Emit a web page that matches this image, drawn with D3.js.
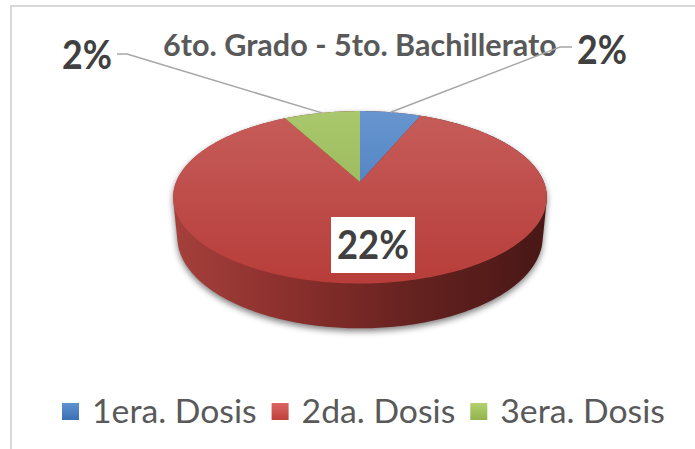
<!DOCTYPE html>
<html>
<head>
<meta charset="utf-8">
<script src="https://cdn.jsdelivr.net/npm/d3@7"></script>
<style>
  html, body { margin: 0; padding: 0; background: #ffffff; }
  svg { display: block; }
</style>
</head>
<body>
<svg id="chart" width="695" height="449"></svg>
<script>
// ---- data ----
const title = "6to. Grado - 5to. Bachillerato";
const categories = ["1era. Dosis", "2da. Dosis", "3era. Dosis"];
const values = [1.6, 22.0, 2.0];           // percent values shown as labels
const labelTexts = values.map(v => d3.format(".0%")(v / 100));

// ---- styles ----
const topColors = [["#6795cf", "#3c72b6"], ["#c65d5a", "#b73d3a"], ["#a9c76c", "#8fae4d"]];
const legendColors = [["#5f91d2", "#3b70b5"], ["#dc6663", "#bf3f3b"], ["#b3d26f", "#91b24f"]];
const color = d3.scaleOrdinal().domain(categories).range(d3.range(categories.length));

const svg = d3.select("#chart");
const W = 695, H = 449;
const defs = svg.append("defs");

// frame
svg.append("rect").attr("x", 11).attr("y", 6).attr("width", W + 20).attr("height", H + 20)
  .attr("fill", "#fff").attr("stroke", "#d9d9d9").attr("stroke-width", 2);

// ---- 3D projection ----
const phi = 27 * Math.PI / 180, Dd = 5.03, F = 925, cx = 360, cy = 182, depth = 0.245;
function proj(theta, r = 1, h = 0) {
  const x = r * Math.sin(theta), z = r * Math.cos(theta);
  const u = z * Math.sin(phi) + h * Math.cos(phi);
  const w = z * Math.cos(phi) - h * Math.sin(phi);
  const s = F / (Dd + w);
  return [cx + s * x, cy - s * u];
}
const N = 360;
const topRim = d3.range(N).map(i => proj(i / N * 2 * Math.PI, 1, 0));
const botRim = d3.range(N).map(i => proj(i / N * 2 * Math.PI, 1, -depth));
const hull = d3.polygonHull(topRim.concat(botRim));
const xs = topRim.map(p => p[0]);
const x0 = d3.min(xs), x1 = d3.max(xs);

// shadow
const sh = defs.append("filter").attr("id", "blur").attr("x", "-20%").attr("y", "-20%").attr("width", "140%").attr("height", "140%");
sh.append("feGaussianBlur").attr("stdDeviation", 3);
svg.append("path").attr("d", "M" + hull.join("L") + "Z")
  .attr("transform", "translate(0,3)")
  .attr("fill", "#000").attr("opacity", 0.5).attr("filter", "url(#blur)");

// side
const sideGrad = defs.append("linearGradient").attr("id", "side").attr("gradientUnits", "userSpaceOnUse")
  .attr("x1", x0).attr("x2", x1).attr("y1", 0).attr("y2", 0);
[[0, "#a5403c"], [0.3, "#8c302d"], [0.65, "#64221f"], [1, "#481716"]].forEach(s =>
  sideGrad.append("stop").attr("offset", s[0]).attr("stop-color", s[1]));
svg.append("path").attr("d", "M" + hull.join("L") + "Z").attr("fill", "url(#side)");

// top faces
const pie = d3.pie().sort(null).value(d => d);
const arcs = pie(values);
const ys = topRim.map(p => p[1]);
topColors.forEach((c, i) => {
  const g = defs.append("linearGradient").attr("id", "top" + i).attr("gradientUnits", "userSpaceOnUse")
    .attr("x1", 0).attr("x2", 0).attr("y1", d3.min(ys)).attr("y2", d3.max(ys));
  g.append("stop").attr("offset", 0).attr("stop-color", c[0]);
  g.append("stop").attr("offset", 1).attr("stop-color", c[1]);
});
const line = d3.line();
svg.append("g").selectAll("path").data(arcs).join("path")
  .attr("d", a => {
    const n = Math.max(4, Math.ceil((a.endAngle - a.startAngle) / (2 * Math.PI) * 240));
    const pts = [[cx, cy]].concat(d3.range(n + 1).map(k =>
      proj(a.startAngle + (a.endAngle - a.startAngle) * k / n, 1, 0)));
    return line(pts) + "Z";
  })
  .attr("fill", (a, i) => "url(#top" + color(categories[i]) + ")");

// ---- text helpers ----
function fitSize(sel, target) {
  const w = sel.node().getComputedTextLength();
  const fs = parseFloat(sel.attr("font-size"));
  sel.attr("font-size", fs * target / w);
}

// title
const t = svg.append("text").text(title).attr("x", 360).attr("y", 56)
  .attr("text-anchor", "middle").attr("font-family", "Lato, 'Open Sans', sans-serif")
  .attr("font-weight", 700).attr("font-size", 26).attr("fill", "#595959");
fitSize(t, 394);

// data labels
const labelFont = "Lato, 'Open Sans', sans-serif";
const mid = a => (a.startAngle + a.endAngle) / 2;
const lbl1 = svg.append("g");
lbl1.append("rect").attr("x", 331).attr("y", 217).attr("width", 84).attr("height", 56).attr("fill", "#fff");
const big = lbl1.append("text").text(labelTexts[1])
  .attr("transform", "translate(373,259) scale(1,1.12)")
  .attr("text-anchor", "middle").attr("font-family", labelFont).attr("font-weight", 700)
  .attr("font-size", 36).attr("fill", "#404040");
fitSize(big, 72);

// leader lines for small slices
const leaderSpecs = [
  { i: 0, elbow: [560, 47], end: [572, 47], tx: 577, ty: 64, anchor: "start" },
  { i: 2, elbow: [127, 54], end: [117, 54], tx: 112, ty: 69, anchor: "end" }
];
leaderSpecs.forEach(s => {
  const p = proj(mid(arcs[s.i]), 1, 0);
  svg.append("path").attr("d", line([p, s.elbow, s.end]))
    .attr("fill", "none").attr("stroke", "#a6a6a6").attr("stroke-width", 1.5);
  const tx = svg.append("text").text(labelTexts[s.i])
    .attr("transform", `translate(${s.tx},${s.ty}) scale(1,1.12)`)
    .attr("text-anchor", s.anchor).attr("font-family", labelFont).attr("font-weight", 700)
    .attr("font-size", 34).attr("fill", "#404040");
  fitSize(tx, 50);
});

// legend
legendColors.forEach((c, i) => {
  const g = defs.append("linearGradient").attr("id", "leg" + i).attr("x1", 0).attr("x2", 0).attr("y1", 0).attr("y2", 1);
  g.append("stop").attr("offset", 0).attr("stop-color", c[0]);
  g.append("stop").attr("offset", 1).attr("stop-color", c[1]);
});
const leg = svg.append("g");
const legFont = 34, sq = 17, gap1 = 13, gap2 = 15;
const items = categories.map((c, i) => {
  const gi = leg.append("g");
  gi.append("rect").attr("width", sq).attr("height", sq).attr("y", 403)
    .attr("fill", "url(#leg" + color(c) + ")");
  const tx = gi.append("text").text(c).attr("y", 423)
    .attr("font-family", "Lato, 'Open Sans', sans-serif").attr("font-size", legFont).attr("fill", "#595959");
  return { gi, tx };
});
// scale font to fit the legend span 62..665
const textTotal = items.reduce((s, it) => s + it.tx.node().getComputedTextLength(), 0);
const targetText = (665 - 62) - items.length * (sq + gap1) - gap2 * (items.length - 1);
const newFs = legFont * targetText / textTotal;
let xpos = 62;
items.forEach(it => {
  it.tx.attr("font-size", newFs);
  it.gi.select("rect").attr("x", xpos);
  it.tx.attr("x", xpos + sq + gap1);
  xpos += sq + gap1 + it.tx.node().getComputedTextLength() + gap2;
});
</script>
</body>
</html>
